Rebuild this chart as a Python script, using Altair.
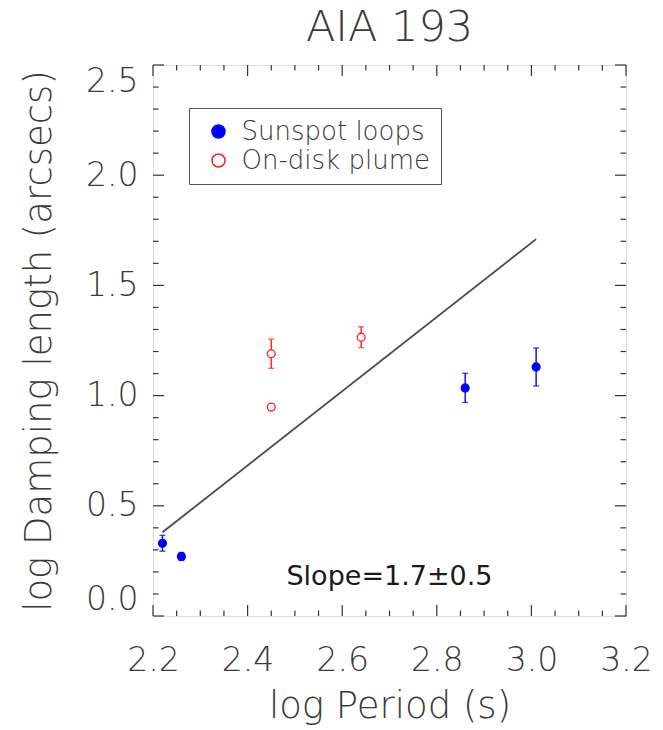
import altair as alt
import pandas as pd

# ---------------- data ----------------
series_names = ["Sunspot loops", "On-disk plume"]
sunspot_period = [2.22, 2.26, 2.86, 3.01]
sunspot_damp = [0.33, 0.27, 1.035, 1.13]
sunspot_err = [0.036, 0.018, 0.066, 0.086]
plume_period = [2.45, 2.45, 2.64]
plume_damp = [1.19, 0.948, 1.265]
plume_err = [0.066, 0.015, 0.047]
fit_period = [2.22, 3.01]
fit_damp = [0.38, 1.71]
slope_label = ["Slope=1.7\u00b10.5"]
slope_pos_x = [2.70]
slope_pos_y = [0.14]
x_ticks = [2.2, 2.4, 2.6, 2.8, 3.0, 3.2]
y_ticks = [0.0, 0.5, 1.0, 1.5, 2.0, 2.5]
x_minor = [2.25, 2.3, 2.35, 2.45, 2.5, 2.55, 2.65, 2.7, 2.75, 2.85, 2.9, 2.95, 3.05, 3.1, 3.15]
y_minor = [0.1, 0.2, 0.3, 0.4, 0.6, 0.7, 0.8, 0.9, 1.1, 1.2, 1.3, 1.4,
           1.6, 1.7, 1.8, 1.9, 2.1, 2.2, 2.3, 2.4]

W, H = 473, 551
FONT = "DejaVu Sans"
WT = 200
TXT = "#3a3a3a"
FRAME = "#333333"
BLUE = "#0000ff"
RED = "#ff2020"

rows = []
for x, y, e in zip(sunspot_period, sunspot_damp, sunspot_err):
    rows.append({"series": series_names[0], "x": x, "y": y, "lo": y - e, "hi": y + e})
for x, y, e in zip(plume_period, plume_damp, plume_err):
    rows.append({"series": series_names[1], "x": x, "y": y, "lo": y - e, "hi": y + e})
pts = pd.DataFrame(rows)

xs = alt.Scale(domain=[2.2, 3.2], nice=False, zero=False)
ys = alt.Scale(domain=[0.0, 2.5], nice=False, zero=False)
cscale = alt.Scale(domain=series_names, range=[BLUE, RED])

x_axis = alt.Axis(values=x_ticks, format=".1f", domain=False, ticks=False, tickSize=0,
                  grid=False, labelFont=FONT, labelFontSize=33, labelColor=TXT,
                  labelFontWeight=WT, labelFlush=False,
                  labelBaseline="alphabetic", labelPadding=54,
                  title="log Period (s)", titleFont=FONT, titleFontSize=37,
                  titleFontWeight=WT, titleColor=TXT, titleBaseline="alphabetic",
                  titleX=W / 2, titleY=101)
y_axis = alt.Axis(values=y_ticks, format=".1f", domain=False, ticks=False, tickSize=0,
                  grid=False, labelFont=FONT, labelFontSize=33, labelColor=TXT,
                  labelFontWeight=WT, labelPadding=15, labelFlush=True,
                  title="log Damping length (arcsecs)", titleFont=FONT, titleFontSize=37,
                  titleFontWeight=WT, titleColor=TXT, titleBaseline="alphabetic",
                  titleX=-103, titleY=H / 2, titleAngle=270)


def X(field):
    return alt.X(field, scale=xs, axis=x_axis)


def Y(field):
    return alt.Y(field, scale=ys, axis=y_axis)


fit_df = pd.DataFrame({"x": fit_period, "y": fit_damp})
fit = alt.Chart(fit_df).mark_line(color="#4a4a4a", strokeWidth=1.8).encode(
    x=X("x:Q"), y=Y("y:Q"))

err = alt.Chart(pts).mark_rule(strokeWidth=1.4).encode(
    x=X("x:Q"), y=Y("lo:Q"), y2="hi:Q",
    color=alt.Color("series:N", scale=cscale, legend=None),
)
cap_lo = alt.Chart(pts).mark_tick(orient="horizontal", size=6, thickness=1.4).encode(
    x=X("x:Q"), y=Y("lo:Q"),
    color=alt.Color("series:N", scale=cscale, legend=None),
)
cap_hi = alt.Chart(pts).mark_tick(orient="horizontal", size=6, thickness=1.4).encode(
    x=X("x:Q"), y=Y("hi:Q"),
    color=alt.Color("series:N", scale=cscale, legend=None),
)

legend = alt.Legend(title=None, orient="none", legendX=36, legendY=43,
                    strokeColor="#555555", padding=10.5, labelFont=FONT,
                    labelFontSize=26, labelColor=TXT, labelFontWeight=WT,
                    labelLimit=400, symbolSize=170,
                    symbolStrokeWidth=1.5, symbolOffset=6, labelOffset=10,
                    rowPadding=3, symbolType="circle")

points = alt.Chart(pts).mark_point(shape="circle", size=62, opacity=1, strokeWidth=1.3).encode(
    x=X("x:Q"), y=Y("y:Q"),
    fill=alt.Fill("series:N", scale=alt.Scale(domain=series_names, range=[BLUE, "#ffffff"]),
                  legend=legend),
    stroke=alt.Stroke("series:N", scale=alt.Scale(domain=series_names, range=[BLUE, RED]),
                      legend=legend),
)

slope_df = pd.DataFrame({"x": slope_pos_x, "y": slope_pos_y, "t": slope_label})
slope = alt.Chart(slope_df).mark_text(font=FONT, fontSize=27, color="#1a1a1a",
                                      fontWeight="normal",
                                      align="center", baseline="alphabetic").encode(
    x=X("x:Q"), y=Y("y:Q"), text="t:N",
)

MAJ, MIN = 11, 5.5
xmaj = pd.DataFrame({"v": x_ticks})
xmin = pd.DataFrame({"v": x_minor})
ymaj = pd.DataFrame({"v": y_ticks})
ymin = pd.DataFrame({"v": y_minor})


def xtick(df, y0, y1):
    return alt.Chart(df).mark_rule(color=FRAME, strokeWidth=1.2).encode(
        x=X("v:Q"), y=alt.value(y0), y2=alt.value(y1))


def ytick(df, x0, x1):
    return alt.Chart(df).mark_rule(color=FRAME, strokeWidth=1.2).encode(
        y=Y("v:Q"), x=alt.value(x0), x2=alt.value(x1))


ticks = [
    xtick(xmaj, H, H - MAJ), xtick(xmin, H, H - MIN),
    xtick(xmaj, 0, MAJ), xtick(xmin, 0, MIN),
    ytick(ymaj, 0, MAJ), ytick(ymin, 0, MIN),
    ytick(ymaj, W, W - MAJ), ytick(ymin, W, W - MIN),
]

chart = alt.layer(*ticks, fit, err, cap_lo, cap_hi, points, slope).resolve_scale(
    color="independent"
).properties(
    width=W, height=H,
    title=alt.TitleParams("AIA 193", font=FONT, fontSize=43, fontWeight=WT,
                          color=TXT, anchor="middle", offset=21, dy=41,
                          baseline="alphabetic"),
    autosize=alt.AutoSizeParams(type="none"),
    padding={"left": 153, "top": 65, "right": 37, "bottom": 114},
).configure_view(stroke=FRAME, strokeWidth=1.6).configure(background="white")

chart.save("out.html", embed_options={"renderer": "svg", "actions": False})
